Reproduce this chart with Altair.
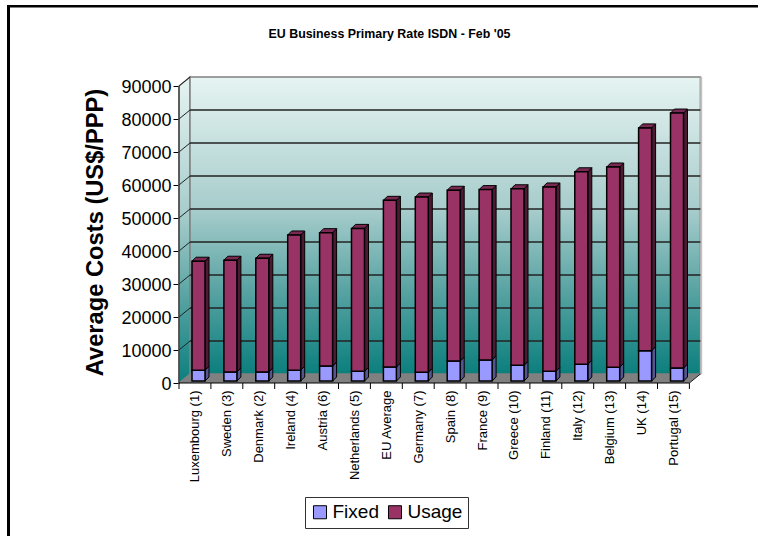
import altair as alt
import pandas as pd

# Costs per country in US$/PPP
countries = ["Luxembourg (1)", "Sweden (3)", "Denmark (2)", "Ireland (4)", "Austria (6)",
             "Netherlands (5)", "EU Average", "Germany (7)", "Spain (8)", "France (9)",
             "Greece (10)", "Finland (11)", "Italy (12)", "Belgium (13)", "UK (14)", "Portugal (15)"]
fixed = [3250, 2750, 2750, 3250, 4550, 2950, 4250, 2650, 6050, 6350, 4750, 2950, 5050, 4150, 9200, 3950]
usage = [33050, 33850, 34450, 41000, 40400, 43300, 50500, 53100, 51750, 51650, 53500, 55850, 58350, 60700, 67500, 77250]
tick_values = [0, 10000, 20000, 30000, 40000, 50000, 60000, 70000, 80000, 90000]

FONT = "Liberation Sans"
SLOT_PX = 31.9          # horizontal pixels per category
UNIT_PX = 297 / 90000   # vertical pixels per US$
W, H = 523, 305


def px_x(p):
    return p / SLOT_PX


def px_y(p):
    return p / UNIT_PX


N = len(countries)
RIGHT = float(N)
X_SCALE = alt.Scale(domain=[0, px_x(W)], nice=False, zero=False)
Y_SCALE = alt.Scale(domain=[0, px_y(H)], nice=False, zero=False)
WALL_DX, WALL_DY = px_x(11), px_y(9)
BAR_LEFT, BAR_W = px_x(13), px_x(13)
BAR_DX, BAR_DY = px_x(4), px_y(4)
BAR_BASE = px_y(2)

# One axis definition per channel, shared by every layer
X_AXIS = alt.Axis(
    values=[i + 0.5 for i in range(N)], title=None, grid=False, domain=False, ticks=False,
    labelAngle=270, labelAlign="right", labelBaseline="middle", labelPadding=7,
    labelFont=FONT, labelFontSize=13, labelColor="black", labelOverlap=False,
    labelExpr="%s[floor(datum.value)]" % str(countries))
Y_AXIS = alt.Axis(
    values=tick_values, title="Average Costs (US$/PPP)", grid=False, domain=False,
    tickSize=6, tickColor="black", tickWidth=1, labelPadding=2, labelOffset=1, format="d",
    labelFont=FONT, labelFontSize=18, labelColor="black", labelOverlap=False,
    titleFont=FONT, titleFontSize=23.7, titleFontWeight="bold", titleColor="black",
    titleX=-84, titleY=154, titleAngle=270, titleAlign="center", titleBaseline="middle")


def xq(field="x"):
    return alt.X(f"{field}:Q", scale=X_SCALE, axis=X_AXIS)


def yq(field="y"):
    return alt.Y(f"{field}:Q", scale=Y_SCALE, axis=Y_AXIS)


wall_gradient = alt.LinearGradient(
    gradient="linear", x1=0, y1=0, x2=0, y2=1,
    stops=[alt.GradientStop(offset=0, color="#e6f4f2"),
           alt.GradientStop(offset=0.45, color="#a6cccb"),
           alt.GradientStop(offset=0.75, color="#4f9f9e"),
           alt.GradientStop(offset=1, color="#0b7f7d")])

# Back wall
back = alt.Chart(pd.DataFrame({"x": [WALL_DX], "x2": [WALL_DX + RIGHT], "y": [WALL_DY],
                               "y2": [WALL_DY + 90000]})).mark_rect(
    color=wall_gradient, stroke="#808080", strokeWidth=1.5).encode(
    x=xq(), x2="x2:Q", y=yq(), y2="y2:Q")

# Left wall
left = alt.Chart(pd.DataFrame({"x": [0, WALL_DX], "y": [0, WALL_DY], "y2": [90000, 90000 + WALL_DY]})).mark_area(
    color=wall_gradient, stroke="#808080", strokeWidth=1.5).encode(
    x=xq(), y=yq(), y2="y2:Q")

# Right edge of the wall
right_edge = alt.Chart(pd.DataFrame({"x": [WALL_DX + RIGHT + px_x(0.8)], "y": [WALL_DY], "y2": [WALL_DY + 90000]})).mark_rule(
    color="#c0c0c0", strokeWidth=2).encode(x=xq(), y=yq(), y2="y2:Q")

# Gridlines across the back wall
grid = alt.Chart(pd.DataFrame({"x": [WALL_DX] * 8, "x2": [WALL_DX + RIGHT] * 8,
                               "y": [v + WALL_DY for v in tick_values[1:-1]]})).mark_rule(
    color="#222222", strokeWidth=1.5).encode(x=xq(), x2="x2:Q", y=yq())

# Gridline returns on the left wall
slope_rows = []
for v in tick_values[1:]:
    slope_rows += [{"id": v, "x": 0, "y": v}, {"id": v, "x": WALL_DX, "y": v + WALL_DY}]
slopes = alt.Chart(pd.DataFrame(slope_rows)).mark_line(color="#222222", strokeWidth=1).encode(
    x=xq(), y=yq(), detail="id:N")

# Floor
floor = alt.Chart(pd.DataFrame({"y": [0, WALL_DY], "x": [0, WALL_DX], "x2": [RIGHT, RIGHT + WALL_DX]})).mark_area(
    orient="horizontal", color="#808080").encode(y=yq(), x=xq(), x2="x2:Q")
floor_edge = alt.Chart(pd.DataFrame({"x": [RIGHT, RIGHT + WALL_DX], "y": [0, WALL_DY]})).mark_line(
    color="#222222", strokeWidth=1).encode(x=xq(), y=yq())

# Front faces, side faces and top faces of the stacked columns
front_rows, side_rows, top_rows = [], [], []
side_fill = {"Fixed": "#55558f", "Usage": "#4d1a33"}
for i in range(N):
    x0 = i + BAR_LEFT
    x1 = x0 + BAR_W
    stack = [("Fixed", 0, fixed[i]), ("Usage", fixed[i], fixed[i] + usage[i])]
    for series, lo, hi in stack:
        lo, hi = lo + BAR_BASE, hi + BAR_BASE
        front_rows.append({"series": series, "x": x0, "x2": x1, "y": lo, "y2": hi})
        key = f"{i}-{series}"
        side_rows += [{"id": key, "fill": side_fill[series], "x": x1, "y": lo, "y2": hi},
                      {"id": key, "fill": side_fill[series], "x": x1 + BAR_DX, "y": lo + BAR_DY, "y2": hi + BAR_DY}]
    peak = fixed[i] + usage[i] + BAR_BASE
    top_rows += [{"id": i, "x": x0, "x2": x1, "y": peak},
                 {"id": i, "x": x0 + BAR_DX, "x2": x1 + BAR_DX, "y": peak + BAR_DY}]

sides = alt.Chart(pd.DataFrame(side_rows)).mark_area(stroke="black", strokeWidth=1).encode(
    x=xq(), y=yq(), y2="y2:Q", detail="id:N", color=alt.Color("fill:N", scale=None))
tops = alt.Chart(pd.DataFrame(top_rows)).mark_area(
    orient="horizontal", color="#7a2952", stroke="black", strokeWidth=1).encode(
    y=yq(), x=xq(), x2="x2:Q", detail="id:N")
fronts = alt.Chart(pd.DataFrame(front_rows)).mark_rect(stroke="black", strokeWidth=1.5).encode(
    x=xq(), x2="x2:Q", y=yq(), y2="y2:Q",
    color=alt.Color("series:N", scale=alt.Scale(domain=["Fixed", "Usage"], range=["#9999ff", "#993366"]),
                    legend=alt.Legend(orient="none", legendX=126, legendY=419, direction="horizontal",
                                      columns=2, title=None, strokeColor="#333333", fillColor="white",
                                      padding=5.5, symbolType="square", symbolSize=170,
                                      symbolStrokeColor="black", symbolStrokeWidth=1, symbolOpacity=1,
                                      labelFont=FONT, labelFontSize=19, labelColor="black", labelOffset=3,
                                      columnPadding=6)))

# Front axis lines and category ticks
y_axis_line = alt.Chart(pd.DataFrame({"x": [0], "y": [0], "y2": [90000]})).mark_rule(
    color="#333333", strokeWidth=1.2).encode(x=xq(), y=yq(), y2="y2:Q")
x_axis_line = alt.Chart(pd.DataFrame({"x": [0], "x2": [RIGHT], "y": [0]})).mark_rule(
    color="black", strokeWidth=1).encode(x=xq(), x2="x2:Q", y=yq())
x_ticks = alt.Chart(pd.DataFrame({"x": list(range(N + 1))})).mark_rule(color="black", strokeWidth=1).encode(
    x=xq(), y=alt.value(H), y2=alt.value(H + 6))

# Heading
heading = alt.Chart(pd.DataFrame({"t": ["EU Business Primary Rate ISDN - Feb '05"]})).mark_text(
    font=FONT, fontSize=12.4, fontWeight="bold", color="black", align="center", baseline="middle").encode(
    text="t:N", x=alt.value(210.5), y=alt.value(-44))

# Outer frame along the top and left
frame_top = alt.Chart(pd.DataFrame({"a": [0]})).mark_rule(color="black", strokeWidth=2.5).encode(
    x=alt.value(-172), x2=alt.value(579), y=alt.value(-71.8))
frame_left = alt.Chart(pd.DataFrame({"a": [0]})).mark_rule(color="black", strokeWidth=3).encode(
    x=alt.value(-170.5), y=alt.value(-73), y2=alt.value(458))

chart = alt.layer(
    left, back, right_edge, grid, slopes, floor, floor_edge, y_axis_line, x_axis_line, x_ticks,
    sides, tops, fronts, heading, frame_top, frame_left
).properties(
    width=W, height=H, background="white",
    padding={"left": 179, "top": 78, "right": 56, "bottom": 153},
    autosize=alt.AutoSizeParams(type="none"),
).configure_view(stroke=None)

chart.save("out.html", embed_options={"renderer": "svg", "actions": False})
